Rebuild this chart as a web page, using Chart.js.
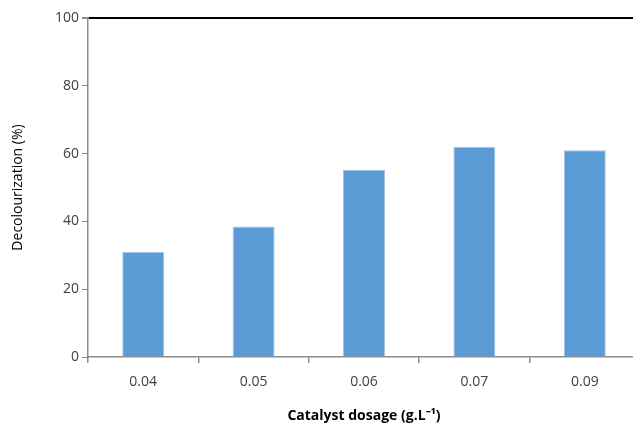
<!DOCTYPE html>
<html>
<head>
<meta charset="utf-8">
<script src="https://cdn.jsdelivr.net/npm/chart.js@4.4.0/dist/chart.umd.min.js"></script>
<style>
  html, body { margin: 0; padding: 0; background: #fff; overflow: hidden; }
  #wrap { width: 640px; height: 428px; }
</style>
</head>
<body>
<div id="wrap"><canvas id="grafico"></canvas></div>
<script>
const dosagens = ["0.04", "0.05", "0.06", "0.07", "0.09"];
const descoloracao = [31, 38.5, 55.2, 62, 61];
const ticksY = [0, 20, 40, 60, 80, 100];

const cinza = "#8c8c8c";
const fonte = "'Open Sans', 'Liberation Sans', sans-serif";

new Chart(document.getElementById("grafico").getContext("2d"), {
  type: "bar",
  data: {
    labels: dosagens,
    datasets: [{
      data: descoloracao,
      backgroundColor: "#5b9bd5",
      borderColor: "#9dc3e6",
      borderWidth: 1,
      barPercentage: 0.38,
      categoryPercentage: 1
    }]
  },
  options: {
    responsive: true,
    maintainAspectRatio: false,
    animation: false,
    layout: { padding: { top: 18, left: 6, right: 0, bottom: 0 } },
    plugins: { legend: { display: false }, tooltip: { enabled: false } },
    scales: {
      x: {
        grid: {
          offset: true,
          color: "transparent",
          drawTicks: true,
          tickColor: cinza,
          tickLength: 6,
          lineWidth: 1.5
        },
        border: { color: cinza, width: 1.5 },
        ticks: { color: "#404040", font: { family: fonte, size: 14 }, padding: 11 },
        title: {
          display: true,
          text: "Catalyst dosage (g.L\u207B\u00B9)",
          color: "#000",
          font: { family: fonte, size: 14, weight: "bold" },
          padding: { top: 4 }
        },
        afterFit: s => { s.height = 71; }
      },
      y: {
        min: 0,
        max: 100,
        afterBuildTicks: s => { s.ticks = ticksY.map(v => ({ value: v })); },
        grid: {
          color: c => c.tick && c.tick.value === 100 ? "#000" : "transparent",
          lineWidth: c => c.tick && c.tick.value === 100 ? 2 : 1,
          tickColor: cinza,
          tickLength: 6
        },
        border: { color: cinza, width: 1.5 },
        ticks: { color: "#404040", font: { family: fonte, size: 14 }, padding: 3 },
        title: {
          display: true,
          text: "Decolourization (%)",
          color: "#000",
          font: { family: fonte, size: 14 },
          padding: { bottom: 4 }
        },
        afterFit: s => { s.width = 82; }
      }
    }
  }
});
</script>
</body>
</html>
